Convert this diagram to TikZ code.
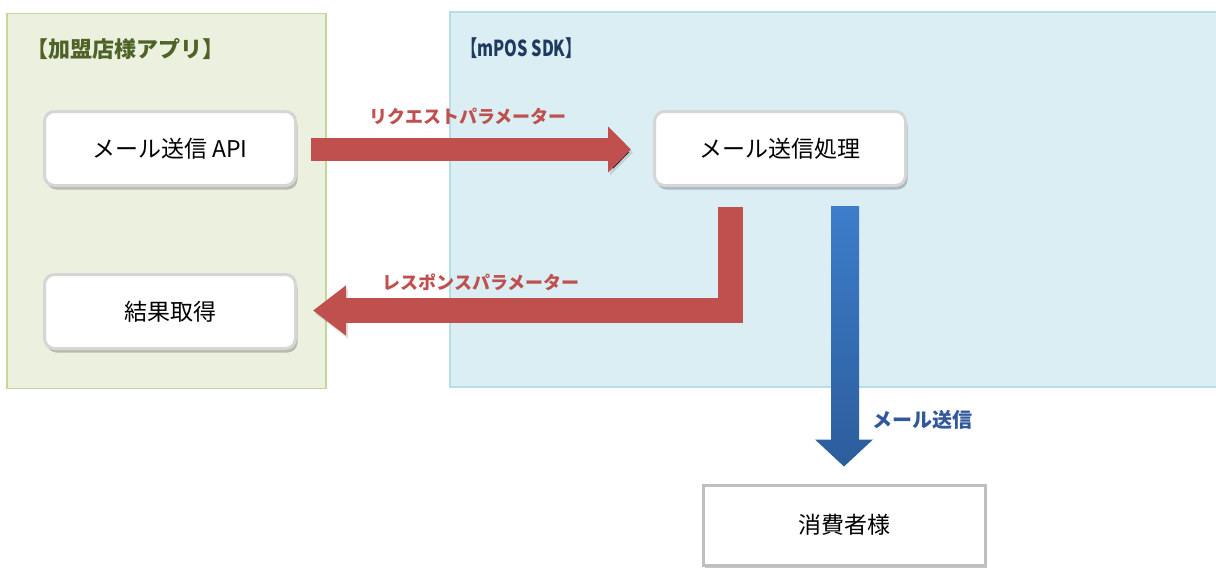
\documentclass[tikz,border=0pt]{standalone}
\usepackage{fontspec}
\setmainfont{Noto Sans CJK JP}
\usetikzlibrary{shadows,calc,arrows.meta}
\definecolor{appfill}{HTML}{EBF1DE}
\definecolor{appline}{HTML}{C3D69B}
\definecolor{sdkfill}{HTML}{DAEEF3}
\definecolor{sdkline}{HTML}{B7DDE8}
\definecolor{apptitle}{HTML}{4F6228}
\definecolor{sdktitle}{HTML}{1F3A60}
\definecolor{arrred}{HTML}{C0504D}
\definecolor{blutop}{HTML}{3D7DCA}
\definecolor{blubot}{HTML}{2C5D9C}
\definecolor{blulabel}{HTML}{30589A}
\definecolor{boxline}{HTML}{D6D6D6}
\definecolor{consline}{HTML}{BFBFBF}
\tikzset{
  panel/.style={rectangle, inner sep=0pt, line width=1.2pt},
  procbox/.style={rectangle, rounded corners=10pt, fill=white, draw=boxline, line width=3pt,
    minimum width=251pt, minimum height=74pt, inner sep=0pt, font=\fontsize{23}{26}\selectfont,
    drop shadow={shadow xshift=2pt, shadow yshift=-4pt, opacity=0.22, fill=black}},
  endbox/.style={rectangle, fill=white, draw=consline, line width=3pt,
    minimum width=282pt, minimum height=80pt, inner sep=0pt, font=\fontsize{23}{26}\selectfont,
    drop shadow={shadow xshift=2pt, shadow yshift=-3pt, opacity=0.22, fill=black}},
  titletext/.style={inner sep=0pt, font=\bfseries\fontsize{22}{24}\selectfont},
  redlabel/.style={inner sep=0pt, text=arrred, font=\bfseries\fontsize{18}{20}\selectfont},
  redarrow/.style={draw=arrred, line join=miter,
    preaction={draw=black, draw opacity=0.12, transform canvas={xshift=2pt,yshift=-3pt}}},
}
\begin{document}
\begin{tikzpicture}[x=1pt,y=-1pt]
\useasboundingbox (0,0) rectangle (1216,568);
% panels
\node[panel, fill=appfill, draw=appline, minimum width=319pt, minimum height=375pt] (app) at (166.5,201) {};
\node[panel, fill=sdkfill, draw=sdkline, minimum width=790pt, minimum height=375pt] (sdk) at (845,199.5) {};
\node[titletext, text=apptitle, anchor=west] (apptitle) at (26,49) {【加盟店様アプリ】};
\node[titletext, text=sdktitle, anchor=west] (sdktitle) at (461,48) {\scalebox{0.74}[1]{【mPOS SDK】}};
% boxes
\node[procbox] (api) at (170,148.5) {メール送信 API};
\node[procbox] (result) at (170,311.5) {結果取得};
\node[procbox] (proc) at (780,148.5) {メール送信処理};
\node[endbox] (cons) at (844,525) {消費者様};
% request arrow
\coordinate (r1s) at ($(api.east)+(14,1)$);
\coordinate (r1e) at ($(proc.west)+(-22,1)$);
\draw[redarrow, line width=23pt, -{Triangle[length=23pt,width=45pt]}] (r1s) -- (r1e);
\node[redlabel] (reqlabel) at (468,116) {リクエストパラメーター};
% response arrow
\coordinate (r2s) at ($(proc.south)+(-49.5,20)$);
\coordinate (r2e) at ($(result.east)+(16,-1)$);
\draw[redarrow, line width=25pt, -{Triangle[length=33pt,width=48pt]}] (r2s) |- (r2e);
\node[redlabel] (reslabel) at (481,282) {レスポンスパラメーター};
% mail arrow
\coordinate (bs) at ($(proc.south)+(65,19)$);
\coordinate (be) at ($(cons.north)+(0,-17)$);
\shade[top color=blutop, bottom color=blubot]
  ($(bs)+(-14,0)$) -- ($(bs)+(14,0)$) -- ($(bs |- be)+(14,-27)$) -- ($(be)+(29,-27)$) -- (be)
  -- ($(be)+(-29,-27)$) -- ($(bs |- be)+(-14,-27)$) -- cycle;
\node[inner sep=0pt, text=blulabel, font=\bfseries\fontsize{20}{22}\selectfont] (maillabel) at (922,420) {メール送信};
\end{tikzpicture}
\end{document}
